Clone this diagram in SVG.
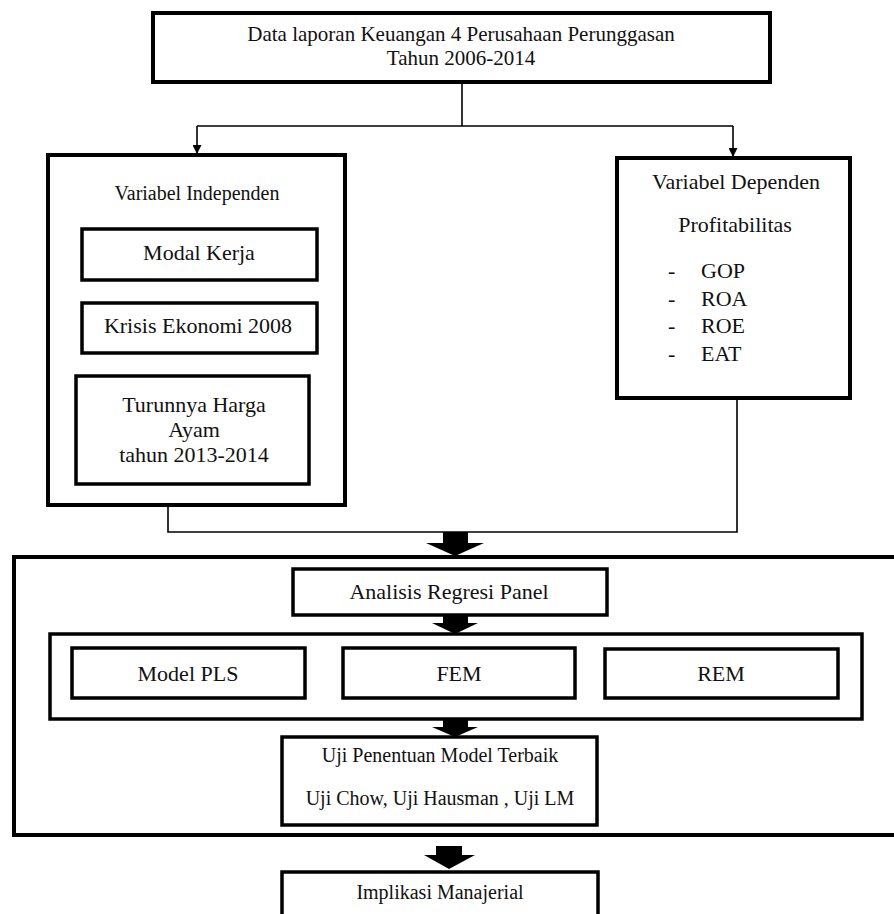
<svg xmlns="http://www.w3.org/2000/svg" width="894" height="914" viewBox="0 0 894 914">
<style>
.b{fill:#fff;stroke:#000;stroke-width:4}
.c{fill:#fff;stroke:#000;stroke-width:3.5}
.t{font-family:"Liberation Serif","Times New Roman",serif;font-size:22px;fill:#111;text-anchor:middle}
.s{font-size:20px}
.h{font-size:21px}
.l{text-anchor:start}
.ln{fill:none;stroke:#000;stroke-width:1.6}
.fat{fill:#000}
</style>
<defs>
<marker id="ah" viewBox="0 0 10 10" refX="10" refY="5" markerWidth="9" markerHeight="9" markerUnits="userSpaceOnUse" orient="auto">
<path d="M0,0 L10,5 L0,10 z" fill="#000"/>
</marker>
</defs>
<rect width="894" height="914" fill="#fff"/>

<g id="container-analisis">
<rect class="b" x="14" y="557" width="890" height="278"/>
</g>

<g id="connectors">
<path class="ln" d="M462,82 V126"/>
<path class="ln" d="M197,126 H733"/>
<path class="ln" d="M197,126 V154" marker-end="url(#ah)"/>
<path class="ln" d="M733,126 V157" marker-end="url(#ah)"/>
<path class="ln" d="M168,505 V532 H737 V398"/>
<polygon class="fat" points="443,532 468,532 468,543 484,543 455,556 426,543 443,543"/>
<polygon class="fat" points="443,615 468,615 468,623 478,623 455,634 432,623 443,623"/>
<polygon class="fat" points="443,719 468,719 468,727 478,727 455,737 432,727 443,727"/>
<polygon class="fat" points="436,846 462,846 462,855 475,855 449,869 424,855 436,855"/>
</g>

<g id="top-data">
<rect class="b" x="153" y="13" width="617" height="69"/>
<text class="t h" x="461" y="41">Data laporan Keuangan 4 Perusahaan Perunggasan</text>
<text class="t h" x="461" y="65">Tahun 2006-2014</text>
</g>

<g id="variabel-independen">
<rect class="b" x="48" y="155" width="297" height="350"/>
<text class="t s" x="197" y="200">Variabel Independen</text>
</g>
<g id="modal-kerja">
<rect class="c" x="82" y="229" width="235" height="51"/>
<text class="t" x="199" y="260">Modal Kerja</text>
</g>
<g id="krisis-ekonomi">
<rect class="c" x="82" y="303" width="235" height="50"/>
<text class="t" x="198" y="333">Krisis Ekonomi 2008</text>
</g>
<g id="turunnya-harga">
<rect class="c" x="76" y="376" width="233" height="108"/>
<text class="t" x="194" y="412">Turunnya Harga</text>
<text class="t" x="194" y="437">Ayam</text>
<text class="t" x="194" y="462">tahun 2013-2014</text>
</g>

<g id="variabel-dependen">
<rect class="b" x="617" y="158" width="233" height="240"/>
<text class="t" x="736" y="189">Variabel Dependen</text>
<text class="t" x="735" y="232">Profitabilitas</text>
<text class="t l" x="668" y="278">-</text>
<text class="t l" x="701" y="278">GOP</text>
<text class="t l" x="668" y="306">-</text>
<text class="t l" x="701" y="306">ROA</text>
<text class="t l" x="668" y="333">-</text>
<text class="t l" x="701" y="333">ROE</text>
<text class="t l" x="668" y="361">-</text>
<text class="t l" x="701" y="361">EAT</text>
</g>

<g id="analisis-regresi">
<rect class="c" x="293" y="569" width="314" height="46"/>
<text class="t" x="449" y="599">Analisis Regresi Panel</text>
</g>

<g id="model-group">
<rect class="c" x="50" y="634" width="812" height="85"/>
</g>
<g id="model-pls">
<rect class="c" x="72" y="648" width="233" height="50"/>
<text class="t" x="188" y="681">Model PLS</text>
</g>
<g id="fem">
<rect class="c" x="343" y="648" width="232" height="50"/>
<text class="t" x="459" y="681">FEM</text>
</g>
<g id="rem">
<rect class="c" x="605" y="649" width="233" height="49"/>
<text class="t" x="721" y="681">REM</text>
</g>

<g id="uji-penentuan">
<rect class="c" x="282" y="737" width="315" height="88"/>
<text class="t s" x="440" y="762">Uji Penentuan Model Terbaik</text>
<text class="t s" x="440" y="805">Uji Chow, Uji Hausman , Uji LM</text>
</g>

<g id="implikasi">
<rect class="c" x="282" y="872" width="316" height="60"/>
<text class="t s" x="440" y="899">Implikasi Manajerial</text>
</g>
</svg>
